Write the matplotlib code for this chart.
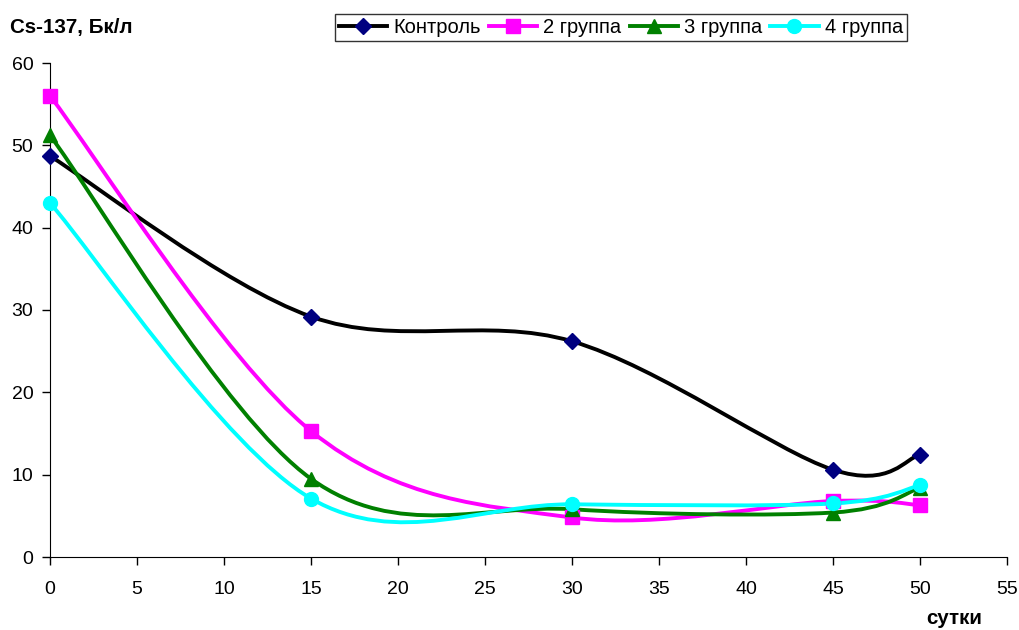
import numpy as np
import matplotlib

matplotlib.use("Agg")
import matplotlib.pyplot as plt
from matplotlib.path import Path
from matplotlib.patches import PathPatch
from matplotlib.lines import Line2D

plt.rcParams["font.family"] = ["Liberation Sans", "DejaVu Sans"]

days = [0, 15, 30, 45, 50]
control = [48.7, 29.2, 26.2, 10.6, 12.4]
group2 = [56.0, 15.3, 4.8, 6.8, 6.3]
group3 = [51.2, 9.5, 5.8, 5.4, 8.4]
group4 = [43.0, 7.1, 6.4, 6.5, 8.7]

series = [
    ("Контроль", control, "black", "#000080", "D", 8.5),
    ("2 группа", group2, "#FF00FF", "#FF00FF", "s", 9.5),
    ("3 группа", group3, "#008000", "#008000", "^", 10.5),
    ("4 группа", group4, "#00FFFF", "#00FFFF", "o", 10),
]


def smooth_path(x, y):
    # Bezier path through the points, Excel-style smoothing
    pts = np.column_stack([x, y]).astype(float)
    n = len(pts)
    verts = [pts[0]]
    codes = [Path.MOVETO]
    for i in range(n - 1):
        p0 = pts[i - 1] if i > 0 else pts[i]
        p1 = pts[i]
        p2 = pts[i + 1]
        p3 = pts[i + 2] if i + 2 < n else pts[i + 1]
        c1 = p1 + (p2 - p0) / 6.0
        c2 = p2 - (p3 - p1) / 6.0
        verts += [c1, c2, p2]
        codes += [Path.CURVE4] * 3
    return Path(verts, codes)


fig = plt.figure(figsize=(10.19, 6.30), dpi=100)
ax = fig.add_axes([50 / 1019, 73 / 630, 957 / 1019, 494 / 630])

handles = []
for label, values, line_color, marker_color, marker, size in series:
    patch = PathPatch(smooth_path(days, values), facecolor="none",
                      edgecolor=line_color, linewidth=2.8, clip_on=False)
    ax.add_patch(patch)
    ax.plot(days, values, linestyle="none", marker=marker, markersize=size,
            color=marker_color, markeredgecolor=marker_color, clip_on=False,
            zorder=3)
    handles.append(Line2D([], [], color=line_color, linewidth=2.8,
                          marker=marker, markersize=size, markerfacecolor=marker_color,
                          markeredgecolor=marker_color, label=label))

ax.set_xlim(0, 55)
ax.set_ylim(0, 60)
ax.set_xticks(np.arange(0, 56, 5))
ax.set_yticks(np.arange(0, 61, 10))
ax.tick_params(direction="out", length=6, width=1, labelsize=14)
ax.tick_params(axis="x", pad=11)
ax.tick_params(axis="y", pad=6)
ax.spines["top"].set_visible(False)
ax.spines["right"].set_visible(False)

fig.text(10 / 1019, 1 - 28 / 630, "Cs-137, Бк/л", fontsize=14.8, fontweight="bold",
         va="center", ha="left")
fig.text(982 / 1019, 1 - 619 / 630, "сутки", fontsize=14.8, fontweight="bold",
         va="center", ha="right")

leg = fig.legend(handles=handles, loc="center", bbox_to_anchor=(621 / 1019, 1 - 27.5 / 630),
                 ncol=4, fontsize=14.5, frameon=True, fancybox=False, edgecolor="black",
                 handlelength=2.4, handletextpad=0.3, columnspacing=0.4,
                 borderpad=0.2, borderaxespad=0)
leg.get_frame().set_linewidth(1.0)

fig.savefig("out.png", dpi=100)
